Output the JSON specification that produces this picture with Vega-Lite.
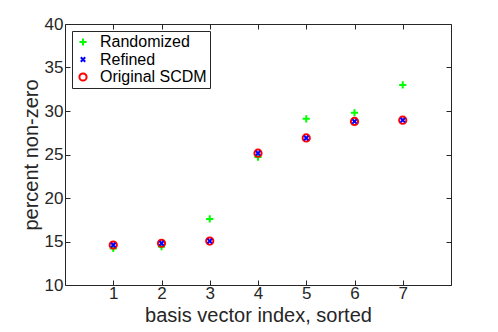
{
  "$schema": "https://vega.github.io/schema/vega-lite/v6.json",
  "width": 386,
  "height": 261,
  "autosize": "none",
  "padding": {"left": 65, "top": 24, "right": 47, "bottom": 47},
  "background": "white",
  "config": {
    "font": "Liberation Sans",
    "view": {"stroke": "#262626", "strokeWidth": 1},
    "axis": {"grid": false, "domain": false, "tickSize": -5, "tickColor": "#262626", "labelColor": "#262626", "titleColor": "#262626", "labelFontSize": 17, "titleFontSize": 20, "titleFontWeight": "normal", "labelFont": "Liberation Sans", "titleFont": "Liberation Sans"}
  },
  "data": {
    "values": [
      {"idx": 1, "series": "Randomized", "pct": 14.2},
      {"idx": 2, "series": "Randomized", "pct": 14.4},
      {"idx": 3, "series": "Randomized", "pct": 17.6},
      {"idx": 4, "series": "Randomized", "pct": 24.7},
      {"idx": 5, "series": "Randomized", "pct": 29.1},
      {"idx": 6, "series": "Randomized", "pct": 29.8},
      {"idx": 7, "series": "Randomized", "pct": 33.0},
      {"idx": 1, "series": "Original SCDM", "pct": 14.6},
      {"idx": 2, "series": "Original SCDM", "pct": 14.8},
      {"idx": 3, "series": "Original SCDM", "pct": 15.05},
      {"idx": 4, "series": "Original SCDM", "pct": 25.15},
      {"idx": 5, "series": "Original SCDM", "pct": 26.9},
      {"idx": 6, "series": "Original SCDM", "pct": 28.8},
      {"idx": 7, "series": "Original SCDM", "pct": 28.95},
      {"idx": 1, "series": "Refined", "pct": 14.6},
      {"idx": 2, "series": "Refined", "pct": 14.8},
      {"idx": 3, "series": "Refined", "pct": 15.05},
      {"idx": 4, "series": "Refined", "pct": 25.15},
      {"idx": 5, "series": "Refined", "pct": 26.9},
      {"idx": 6, "series": "Refined", "pct": 28.8},
      {"idx": 7, "series": "Refined", "pct": 28.95}
    ]
  },
  "layer": [
    {
      "mark": {"type": "point", "filled": false, "strokeWidth": 2, "opacity": 1, "size": 64},
      "encoding": {
        "x": {"field": "idx", "type": "quantitative", "scale": {"domain": [0, 8], "nice": false, "zero": false},
              "axis": {"values": [1, 2, 3, 4, 5, 6, 7], "title": "basis vector index, sorted", "labelPadding": 5, "titlePadding": 4}},
        "y": {"field": "pct", "type": "quantitative", "scale": {"domain": [10, 40], "nice": false, "zero": false},
              "axis": {"values": [10, 15, 20, 25, 30, 35, 40], "title": "percent non-zero", "labelPadding": 7, "titlePadding": 3}},
        "color": {"field": "series", "type": "nominal",
                  "scale": {"domain": ["Randomized", "Refined", "Original SCDM"], "range": ["#00ff00", "#0000ff", "#ff0000"]},
                  "legend": {"title": null, "orient": "none", "legendX": 7, "legendY": 7, "fillColor": "white", "strokeColor": "#262626", "padding": 3, "labelFontSize": 16, "labelFont": "Liberation Sans", "labelColor": "#000000", "labelOffset": 9, "rowPadding": 1.5, "symbolStrokeWidth": 2, "symbolSize": 64}},
        "shape": {"field": "series", "type": "nominal",
                  "scale": {"domain": ["Randomized", "Refined", "Original SCDM"], "range": ["M-0.9,0L0.9,0M0,-0.9L0,0.9", "M-0.55,-0.55L0.55,0.55M-0.55,0.55L0.55,-0.55", "M0.9,0A0.9,0.9 0 1,1 -0.9,0A0.9,0.9 0 1,1 0.9,0Z"]}}
      }
    },
    {
      "mark": {"type": "point", "opacity": 0},
      "encoding": {
        "x": {"field": "idx", "type": "quantitative", "scale": {"domain": [0, 8], "nice": false, "zero": false},
              "axis": {"orient": "top", "values": [1, 2, 3, 4, 5, 6, 7], "labels": false, "title": null}},
        "y": {"field": "pct", "type": "quantitative", "scale": {"domain": [10, 40], "nice": false, "zero": false},
              "axis": {"orient": "right", "values": [10, 15, 20, 25, 30, 35, 40], "labels": false, "title": null}}
      }
    }
  ],
  "resolve": {"axis": {"x": "independent", "y": "independent"}}
}
